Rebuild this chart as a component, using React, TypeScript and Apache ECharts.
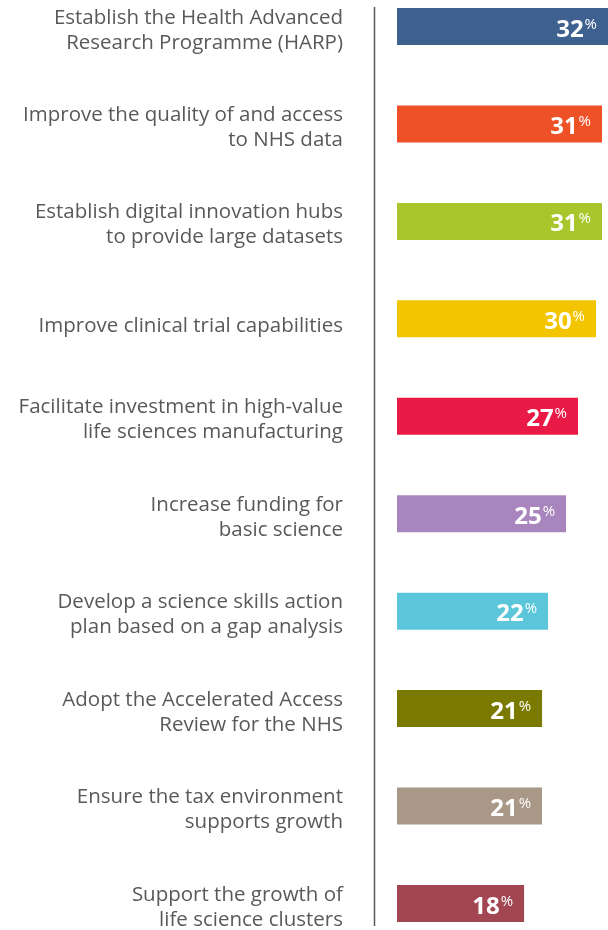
import React, { useEffect, useRef } from "react";
import * as echarts from "echarts";

const categories = [
  "Establish the Health Advanced\nResearch Programme (HARP)",
  "Improve the quality of and access\nto NHS data",
  "Establish digital innovation hubs\nto provide large datasets",
  "Improve clinical trial capabilities",
  "Facilitate investment in high-value\nlife sciences manufacturing",
  "Increase funding for\nbasic science",
  "Develop a science skills action\nplan based on a gap analysis",
  "Adopt the Accelerated Access\nReview for the NHS",
  "Ensure the tax environment\nsupports growth",
  "Support the growth of\nlife science clusters",
];
const values = [32, 31, 31, 30, 27, 25, 22, 21, 21, 18];
const colors = [
  "#3e6190",
  "#ee5126",
  "#aac62d",
  "#f2c500",
  "#ea1a47",
  "#a886bd",
  "#5bc5d9",
  "#7b7a00",
  "#a99887",
  "#a24652",
];
const axisMin = -3.2;
const axisMax = 32;

export default function App() {
  const ref = useRef<HTMLDivElement>(null);
  useEffect(() => {
    if (!ref.current) return;
    const chart = echarts.init(ref.current, null, { renderer: "svg" });
    const barH = 37;
    const labelFont = {
      color: "#58595b",
      fontFamily: "Open Sans",
      fontSize: 20.5,
      lineHeight: 25,
    };
    chart.setOption({
      animation: false,
      grid: { left: 397, right: 0, top: 26.5, bottom: 24.5, containLabel: false },
      xAxis: {
        type: "value",
        min: axisMin,
        max: axisMax,
        show: false,
      },
      yAxis: {
        type: "category",
        data: categories,
        inverse: true,
        boundaryGap: false,
        axisLine: { show: false },
        axisTick: { show: false },
        splitLine: { show: false },
        axisLabel: {
          margin: 54,
          ...labelFont,
          align: "right",
          padding: [3, 0, 0, 0],
          formatter: (v: string) => (v.indexOf("\n") < 0 ? `{s|${v}}` : v),
          rich: {
            s: { ...labelFont, padding: [8, 0, 0, 0] },
          },
        },
      },
      graphic: [
        {
          type: "line",
          shape: { x1: 374.5, y1: 7, x2: 374.5, y2: 926 },
          style: { stroke: "#58595b", lineWidth: 1.5 },
        },
      ],
      series: [
        {
          type: "custom",
          encode: { x: 0, y: 1 },
          data: values.map((v, i) => [v, i]),
          renderItem: (params: any, api: any) => {
            const v = api.value(0);
            const idx = api.value(1);
            const start = api.coord([axisMin, idx]);
            const end = api.coord([v, idx]);
            return {
              type: "group",
              children: [
                {
                  type: "rect",
                  shape: {
                    x: start[0],
                    y: start[1] - barH / 2,
                    width: end[0] - start[0],
                    height: barH,
                  },
                  style: { fill: colors[params.dataIndex] },
                },
                {
                  type: "text",
                  x: end[0] - 11,
                  y: start[1] + 0.5,
                  style: {
                    text: `{v|${v}}{p|%}`,
                    align: "right",
                    verticalAlign: "middle",
                    fill: "#ffffff",
                    rich: {
                      v: {
                        fontSize: 24,
                        fontWeight: "bold",
                        fontFamily: "Open Sans",
                        fill: "#ffffff",
                        lineHeight: 28,
                      },
                      p: {
                        fontSize: 15,
                        fontFamily: "Open Sans",
                        fill: "#ffffff",
                        lineHeight: 15,
                        verticalAlign: "top",
                        padding: [2, 0, 0, 1],
                      },
                    },
                  },
                },
              ],
            };
          },
        },
      ],
    });
    return () => chart.dispose();
  }, []);
  return (
    <div
      ref={ref}
      style={{ position: "fixed", left: 0, top: 0, width: 608, height: 930 }}
    />
  );
}
